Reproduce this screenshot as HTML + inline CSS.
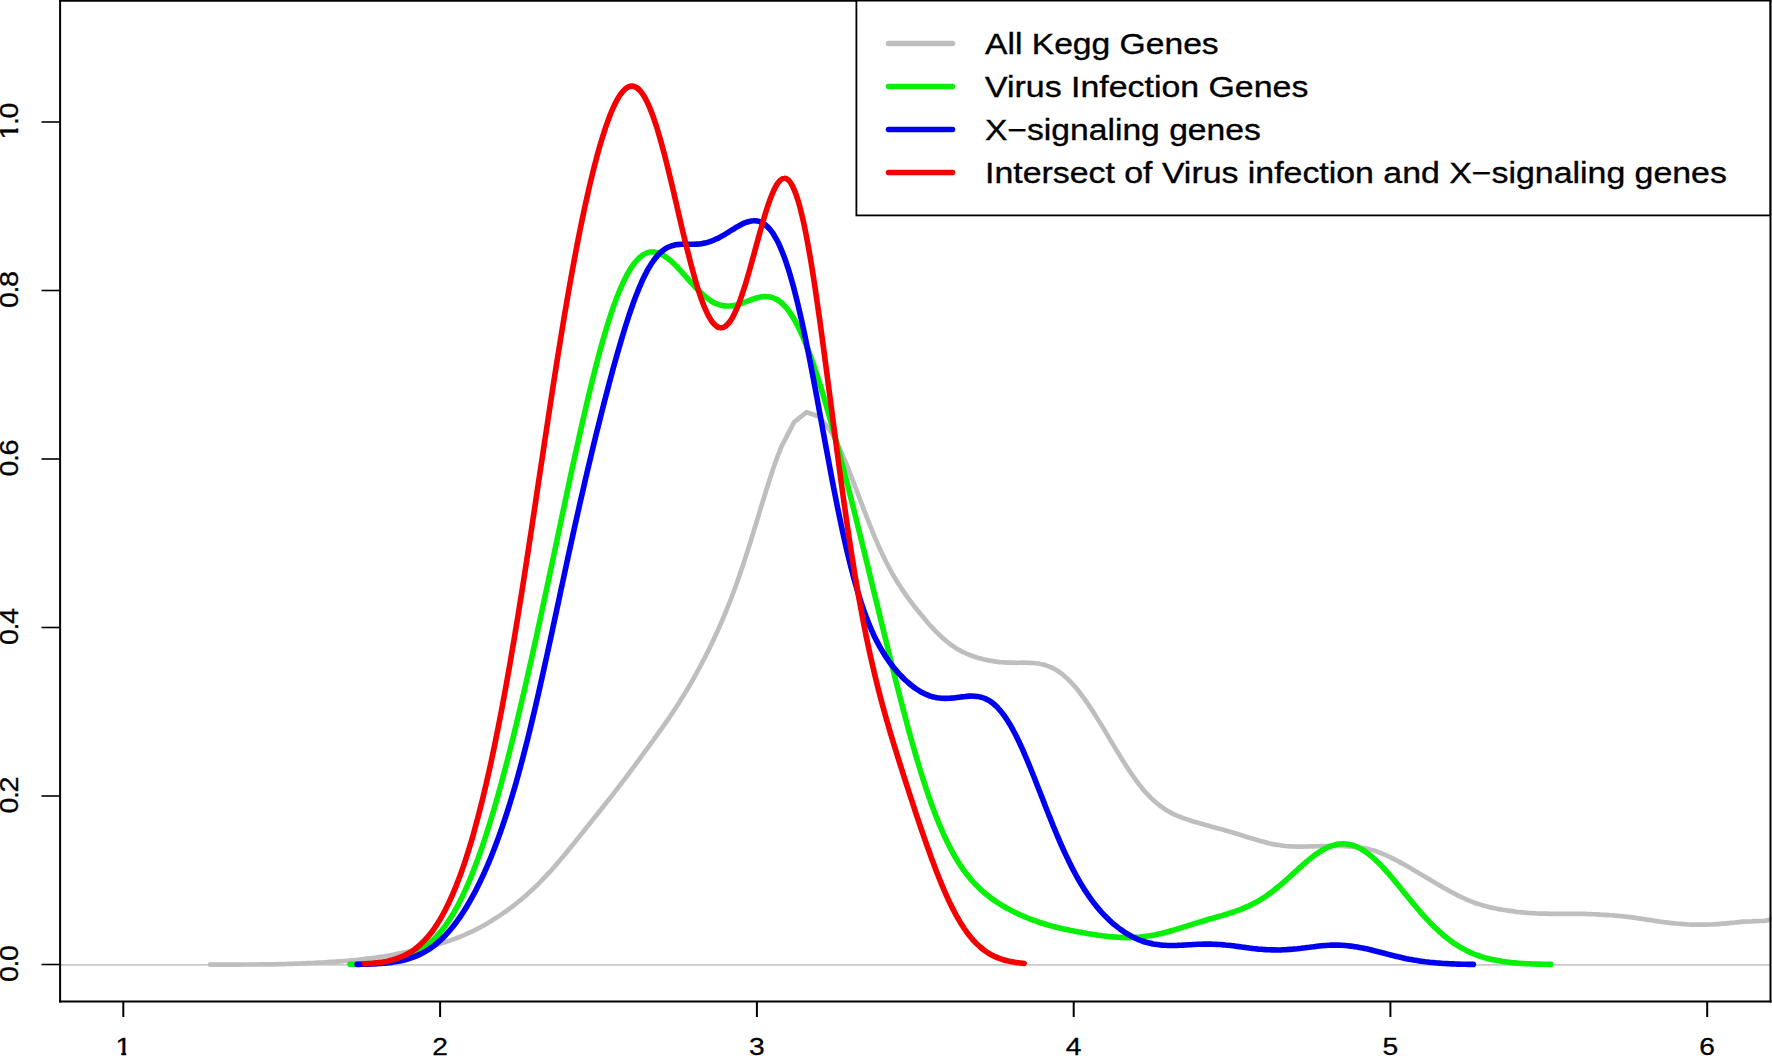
<!DOCTYPE html>
<html lang="en">
<head>
<meta charset="utf-8">
<title>Density of Kegg gene sets</title>
<style>
html,body{margin:0;padding:0;background:#fff;}
body{width:1772px;height:1056px;overflow:hidden;}
svg{display:block;}
text{font-family:"Liberation Sans",sans-serif;fill:#000;}
.ax{font-size:24.5px;stroke:#000;stroke-width:0.3px;}
.ay{font-size:25px;letter-spacing:-1.2px;stroke:#000;stroke-width:0.3px;}
.lg{font-size:29px;stroke:#000;stroke-width:0.35px;}
.curve{fill:none;stroke-width:5.6;stroke-linecap:round;stroke-linejoin:round;}
</style>
</head>
<body>
<svg width="1772" height="1056" viewBox="0 0 1772 1056">
<defs><clipPath id="one"><rect x="100" y="1030" width="50" height="22.9"/><rect x="121.3" y="1052" width="4.9" height="5"/></clipPath><clipPath id="oney"><rect x="0" y="90" width="30" height="33.5"/><rect x="0" y="123.5" width="15" height="20"/><rect x="14.5" y="128.4" width="6" height="4.4"/></clipPath></defs>
<rect x="0" y="0" width="1772" height="1056" fill="#ffffff"/>

<!-- zero line -->
<line x1="60" y1="964.9" x2="1770" y2="964.9" stroke="#c9c9c9" stroke-width="1.6"/>

<!-- density curves -->
<path class="curve" stroke="#bebebe" style="stroke-width:4.7" d="M210.0 964.6C210.8 964.6 213.0 964.6 214.5 964.6C216.0 964.6 217.3 964.6 218.7 964.6C220.1 964.6 221.5 964.6 222.9 964.6C224.3 964.6 225.7 964.6 227.1 964.6C228.5 964.6 229.9 964.6 231.3 964.6C232.7 964.6 234.1 964.6 235.5 964.6C236.9 964.6 238.3 964.6 239.7 964.6C241.1 964.6 242.5 964.6 243.9 964.5C245.3 964.5 246.7 964.5 248.1 964.5C249.5 964.5 250.9 964.5 252.3 964.5C253.7 964.5 255.1 964.5 256.5 964.5C257.9 964.5 259.3 964.5 260.7 964.4C262.1 964.4 263.5 964.4 264.9 964.4C266.3 964.4 267.7 964.4 269.1 964.3C270.5 964.3 271.9 964.3 273.3 964.3C274.7 964.2 276.1 964.2 277.5 964.2C278.9 964.2 280.3 964.1 281.7 964.1C283.1 964.1 284.5 964.0 285.9 964.0C287.3 964.0 288.7 963.9 290.1 963.9C291.5 963.8 292.9 963.8 294.3 963.7C295.7 963.7 297.1 963.6 298.5 963.6C299.9 963.5 301.3 963.5 302.7 963.4C304.1 963.3 305.5 963.3 306.9 963.2C308.3 963.2 309.7 963.1 311.1 963.0C312.5 963.0 313.9 962.9 315.3 962.8C316.7 962.7 318.1 962.7 319.5 962.6C320.9 962.5 322.3 962.4 323.7 962.4C325.1 962.3 326.5 962.2 327.9 962.1C329.3 962.0 330.7 961.9 332.1 961.8C333.5 961.8 334.9 961.7 336.3 961.6C337.7 961.5 339.1 961.4 340.5 961.3C341.9 961.2 343.3 961.1 344.7 961.0C346.1 960.9 347.5 960.7 348.9 960.6C350.3 960.5 351.7 960.4 353.1 960.3C354.5 960.1 355.9 960.0 357.3 959.9C358.7 959.7 360.1 959.6 361.5 959.4C362.9 959.3 364.3 959.1 365.7 958.9C367.1 958.8 368.5 958.6 369.9 958.4C371.3 958.2 372.7 958.1 374.1 957.9C375.5 957.7 376.9 957.4 378.3 957.2C379.7 957.0 381.1 956.8 382.5 956.6C383.9 956.3 385.3 956.1 386.7 955.8C388.1 955.6 389.5 955.3 390.9 955.1C392.3 954.8 393.7 954.6 395.1 954.3C396.5 954.0 397.9 953.7 399.3 953.4C400.7 953.2 402.1 952.9 403.5 952.6C404.9 952.3 406.3 952.0 407.7 951.7C409.1 951.4 410.5 951.1 411.9 950.7C413.3 950.4 414.7 950.1 416.1 949.8C417.5 949.5 418.9 949.1 420.3 948.8C421.7 948.5 423.1 948.1 424.5 947.8C425.9 947.4 427.3 947.1 428.7 946.7C430.1 946.4 431.5 946.0 432.9 945.6C434.3 945.3 435.7 944.9 437.1 944.5C438.5 944.1 439.9 943.7 441.3 943.3C442.7 942.8 444.1 942.4 445.5 942.0C446.9 941.5 448.3 941.1 449.7 940.6C451.1 940.1 452.5 939.6 453.9 939.1C455.3 938.6 456.7 938.1 458.1 937.5C459.5 937.0 460.9 936.4 462.3 935.8C463.7 935.3 465.1 934.7 466.5 934.0C467.9 933.4 469.3 932.8 470.7 932.1C472.1 931.5 473.5 930.8 474.9 930.1C476.3 929.4 477.7 928.7 479.1 927.9C480.5 927.2 481.9 926.4 483.3 925.7C484.7 924.9 486.1 924.1 487.5 923.3C488.9 922.4 490.3 921.6 491.7 920.7C493.1 919.9 494.5 919.0 495.9 918.1C497.3 917.2 498.7 916.3 500.1 915.3C501.5 914.4 502.9 913.4 504.3 912.4C505.7 911.5 507.1 910.5 508.5 909.4C509.9 908.4 511.3 907.4 512.7 906.3C514.1 905.2 515.5 904.1 516.9 903.0C518.3 901.9 519.7 900.7 521.1 899.6C522.5 898.4 523.9 897.2 525.3 896.0C526.7 894.8 528.1 893.5 529.5 892.2C530.9 891.0 532.3 889.7 533.7 888.3C535.1 887.0 536.5 885.7 537.9 884.3C539.3 882.9 540.7 881.5 542.1 880.0C543.5 878.6 544.9 877.1 546.3 875.6C547.7 874.2 549.1 872.6 550.5 871.1C551.9 869.5 553.3 868.0 554.7 866.4C556.1 864.8 557.5 863.2 558.9 861.5C560.3 859.9 561.7 858.2 563.1 856.5C564.5 854.9 565.9 853.2 567.3 851.5C568.7 849.8 570.1 848.1 571.5 846.3C572.9 844.6 574.3 842.9 575.7 841.1C577.1 839.4 578.5 837.6 579.9 835.9C581.3 834.1 582.7 832.4 584.1 830.6C585.5 828.9 586.9 827.1 588.3 825.4C589.7 823.6 591.1 821.9 592.5 820.1C593.9 818.4 595.3 816.6 596.7 814.9C598.1 813.1 599.5 811.4 600.9 809.6C602.3 807.8 603.7 806.1 605.1 804.3C606.5 802.5 607.9 800.8 609.3 799.0C610.7 797.2 612.1 795.4 613.5 793.6C614.9 791.8 616.3 790.0 617.7 788.2C619.1 786.4 620.5 784.5 621.9 782.7C623.3 780.8 624.7 779.0 626.1 777.1C627.5 775.3 628.9 773.4 630.3 771.5C631.7 769.6 633.1 767.7 634.5 765.9C635.9 764.0 637.3 762.1 638.7 760.2C640.1 758.2 641.5 756.3 642.9 754.4C644.3 752.5 645.7 750.6 647.1 748.7C648.5 746.8 649.9 744.8 651.3 742.9C652.7 741.0 654.1 739.0 655.5 737.1C656.9 735.1 658.3 733.2 659.7 731.2C661.1 729.3 662.5 727.3 663.9 725.3C665.3 723.3 666.7 721.3 668.1 719.3C669.5 717.2 670.9 715.2 672.3 713.1C673.7 711.0 675.1 708.9 676.5 706.7C677.9 704.6 679.3 702.4 680.7 700.1C682.1 697.9 683.5 695.7 684.9 693.3C686.3 691.0 687.7 688.7 689.1 686.3C690.5 683.9 691.9 681.5 693.3 679.0C694.7 676.5 696.1 674.0 697.5 671.4C698.9 668.8 700.3 666.2 701.7 663.5C703.1 660.9 704.5 658.1 705.9 655.4C707.3 652.6 708.7 649.8 710.1 646.9C711.5 644.0 712.9 641.1 714.3 638.1C715.7 635.1 717.1 632.0 718.5 628.9C719.9 625.8 721.3 622.5 722.7 619.3C724.1 616.0 725.5 612.6 726.9 609.1C728.3 605.7 729.7 602.1 731.1 598.5C732.5 594.8 733.9 591.1 735.3 587.2C736.7 583.4 738.1 579.4 739.5 575.4C740.9 571.3 742.3 567.1 743.7 562.9C745.1 558.7 746.5 554.3 747.9 549.9C749.3 545.5 750.7 541.0 752.1 536.5C753.5 532.0 754.9 527.4 756.3 522.8C757.7 518.2 759.1 513.5 760.5 508.9C761.9 504.3 763.3 499.7 764.7 495.2C766.1 490.7 767.5 486.2 768.9 481.8C770.3 477.5 771.7 473.2 773.1 469.0C774.5 464.9 776.6 459.1 777.3 457.1L781.5 446.3L794.1 422.1L806.7 412.2L819.3 416.5L831.9 433.2L836.1 441.0C836.8 442.5 838.9 446.8 840.3 449.9C841.7 452.9 843.1 456.2 844.5 459.5C845.9 462.8 847.3 466.3 848.7 469.8C850.1 473.3 851.5 477.0 852.9 480.6C854.3 484.2 855.7 488.0 857.1 491.7C858.5 495.4 859.9 499.1 861.3 502.8C862.7 506.5 864.1 510.3 865.5 513.9C866.9 517.5 868.3 521.2 869.7 524.7C871.1 528.2 872.5 531.7 873.9 535.1C875.3 538.4 876.7 541.7 878.1 544.9C879.5 548.1 880.9 551.1 882.3 554.1C883.7 557.1 885.1 559.9 886.5 562.7C887.9 565.4 889.3 568.1 890.7 570.6C892.1 573.2 893.5 575.6 894.9 578.0C896.3 580.3 897.7 582.6 899.1 584.8C900.5 587.0 901.9 589.1 903.3 591.1C904.7 593.2 906.1 595.2 907.5 597.1C908.9 599.1 910.3 601.0 911.7 602.8C913.1 604.7 914.5 606.5 915.9 608.3C917.3 610.1 918.7 611.8 920.1 613.5C921.5 615.2 922.9 616.9 924.3 618.6C925.7 620.2 927.1 621.9 928.5 623.5C929.9 625.0 931.3 626.6 932.7 628.1C934.1 629.6 935.5 631.1 936.9 632.5C938.3 633.9 939.7 635.2 941.1 636.5C942.5 637.8 943.9 639.1 945.3 640.2C946.7 641.4 948.1 642.6 949.5 643.6C950.9 644.7 952.3 645.7 953.7 646.6C955.1 647.6 956.5 648.4 957.9 649.3C959.3 650.1 960.7 650.9 962.1 651.6C963.5 652.3 964.9 652.9 966.3 653.6C967.7 654.2 969.1 654.8 970.5 655.3C971.9 655.8 973.3 656.3 974.7 656.8C976.1 657.2 977.5 657.7 978.9 658.1C980.3 658.5 981.7 658.8 983.1 659.2C984.5 659.5 985.9 659.8 987.3 660.1C988.7 660.4 990.1 660.7 991.5 660.9C992.9 661.2 994.3 661.4 995.7 661.6C997.1 661.8 998.5 661.9 999.9 662.1C1001.3 662.2 1002.7 662.3 1004.1 662.4C1005.5 662.5 1006.9 662.6 1008.3 662.6C1009.7 662.7 1011.1 662.7 1012.5 662.7C1013.9 662.8 1015.3 662.8 1016.7 662.8C1018.1 662.8 1019.5 662.7 1020.9 662.7C1022.3 662.7 1023.7 662.7 1025.1 662.7C1026.5 662.7 1027.9 662.8 1029.3 662.8C1030.7 662.8 1032.1 662.9 1033.5 663.0C1034.9 663.1 1036.3 663.3 1037.7 663.5C1039.1 663.7 1040.5 663.9 1041.9 664.2C1043.3 664.6 1044.7 664.9 1046.1 665.4C1047.5 665.8 1048.9 666.4 1050.3 667.0C1051.7 667.6 1053.1 668.3 1054.5 669.0C1055.9 669.8 1057.3 670.7 1058.7 671.6C1060.1 672.6 1061.5 673.6 1062.9 674.7C1064.3 675.9 1065.7 677.1 1067.1 678.4C1068.5 679.7 1069.9 681.1 1071.3 682.6C1072.7 684.1 1074.1 685.7 1075.5 687.3C1076.9 689.0 1078.3 690.7 1079.7 692.5C1081.1 694.3 1082.5 696.2 1083.9 698.1C1085.3 700.1 1086.7 702.1 1088.1 704.1C1089.5 706.2 1090.9 708.3 1092.3 710.5C1093.7 712.6 1095.1 714.8 1096.5 717.1C1097.9 719.3 1099.3 721.6 1100.7 723.9C1102.1 726.2 1103.5 728.5 1104.9 730.9C1106.3 733.2 1107.7 735.5 1109.1 737.9C1110.5 740.2 1111.9 742.6 1113.3 744.9C1114.7 747.3 1116.1 749.6 1117.5 751.9C1118.9 754.2 1120.3 756.5 1121.7 758.8C1123.1 761.0 1124.5 763.3 1125.9 765.4C1127.3 767.6 1128.7 769.8 1130.1 771.8C1131.5 773.9 1132.9 776.0 1134.3 777.9C1135.7 779.9 1137.1 781.8 1138.5 783.6C1139.9 785.4 1141.3 787.2 1142.7 788.9C1144.1 790.6 1145.5 792.2 1146.9 793.7C1148.3 795.2 1149.7 796.7 1151.1 798.1C1152.5 799.4 1153.9 800.7 1155.3 801.9C1156.7 803.2 1158.1 804.3 1159.5 805.4C1160.9 806.5 1162.3 807.4 1163.7 808.4C1165.1 809.3 1166.5 810.2 1167.9 811.0C1169.3 811.8 1170.7 812.6 1172.1 813.3C1173.5 814.0 1174.9 814.7 1176.3 815.3C1177.7 815.9 1179.1 816.5 1180.5 817.0C1181.9 817.6 1183.3 818.1 1184.7 818.6C1186.1 819.1 1187.5 819.6 1188.9 820.0C1190.3 820.5 1191.7 820.9 1193.1 821.4C1194.5 821.8 1195.9 822.2 1197.3 822.6C1198.7 823.0 1200.1 823.4 1201.5 823.8C1202.9 824.2 1204.3 824.6 1205.7 825.0C1207.1 825.4 1208.5 825.8 1209.9 826.2C1211.3 826.5 1212.7 826.9 1214.1 827.3C1215.5 827.7 1216.9 828.1 1218.3 828.5C1219.7 828.9 1221.1 829.2 1222.5 829.6C1223.9 830.0 1225.3 830.4 1226.7 830.8C1228.1 831.2 1229.5 831.6 1230.9 832.0C1232.3 832.5 1233.7 832.9 1235.1 833.3C1236.5 833.7 1237.9 834.1 1239.3 834.6C1240.7 835.0 1242.1 835.4 1243.5 835.9C1244.9 836.3 1246.3 836.7 1247.7 837.2C1249.1 837.6 1250.5 838.0 1251.9 838.5C1253.3 838.9 1254.7 839.3 1256.1 839.7C1257.5 840.2 1258.9 840.6 1260.3 841.0C1261.7 841.4 1263.1 841.7 1264.5 842.1C1265.9 842.5 1267.3 842.8 1268.7 843.2C1270.1 843.5 1271.5 843.8 1272.9 844.1C1274.3 844.4 1275.7 844.6 1277.1 844.8C1278.5 845.1 1279.9 845.3 1281.3 845.5C1282.7 845.7 1284.1 845.8 1285.5 846.0C1286.9 846.1 1288.3 846.2 1289.7 846.3C1291.1 846.4 1292.5 846.4 1293.9 846.5C1295.3 846.5 1296.7 846.6 1298.1 846.6C1299.5 846.6 1300.9 846.6 1302.3 846.6C1303.7 846.6 1305.1 846.6 1306.5 846.5C1307.9 846.5 1309.3 846.5 1310.7 846.4C1312.1 846.4 1313.5 846.4 1314.9 846.3C1316.3 846.3 1317.7 846.2 1319.1 846.2C1320.5 846.1 1321.9 846.1 1323.3 846.1C1324.7 846.0 1326.1 846.0 1327.5 846.0C1328.9 846.0 1330.3 845.9 1331.7 845.9C1333.1 845.9 1334.5 845.9 1335.9 845.9C1337.3 845.9 1338.7 845.9 1340.1 846.0C1341.5 846.0 1342.9 846.0 1344.3 846.1C1345.7 846.1 1347.1 846.2 1348.5 846.3C1349.9 846.4 1351.3 846.5 1352.7 846.6C1354.1 846.7 1355.5 846.9 1356.9 847.0C1358.3 847.2 1359.7 847.4 1361.1 847.7C1362.5 847.9 1363.9 848.2 1365.3 848.4C1366.7 848.7 1368.1 849.1 1369.5 849.4C1370.9 849.8 1372.3 850.2 1373.7 850.6C1375.1 851.0 1376.5 851.5 1377.9 852.0C1379.3 852.5 1380.7 853.0 1382.1 853.6C1383.5 854.2 1384.9 854.8 1386.3 855.4C1387.7 856.0 1389.1 856.7 1390.5 857.3C1391.9 858.0 1393.3 858.7 1394.7 859.4C1396.1 860.1 1397.5 860.9 1398.9 861.6C1400.3 862.4 1401.7 863.2 1403.1 863.9C1404.5 864.7 1405.9 865.5 1407.3 866.3C1408.7 867.1 1410.1 867.9 1411.5 868.8C1412.9 869.6 1414.3 870.4 1415.7 871.2C1417.1 872.1 1418.5 872.9 1419.9 873.7C1421.3 874.5 1422.7 875.4 1424.1 876.2C1425.5 877.0 1426.9 877.9 1428.3 878.7C1429.7 879.5 1431.1 880.4 1432.5 881.2C1433.9 882.0 1435.3 882.9 1436.7 883.7C1438.1 884.5 1439.5 885.3 1440.9 886.1C1442.3 886.9 1443.7 887.8 1445.1 888.5C1446.5 889.3 1447.9 890.1 1449.3 890.9C1450.7 891.7 1452.1 892.4 1453.5 893.2C1454.9 893.9 1456.3 894.6 1457.7 895.3C1459.1 896.0 1460.5 896.7 1461.9 897.4C1463.3 898.0 1464.7 898.7 1466.1 899.3C1467.5 899.9 1468.9 900.5 1470.3 901.1C1471.7 901.6 1473.1 902.2 1474.5 902.7C1475.9 903.2 1477.3 903.7 1478.7 904.1C1480.1 904.6 1481.5 905.0 1482.9 905.4C1484.3 905.8 1485.7 906.2 1487.1 906.6C1488.5 907.0 1489.9 907.3 1491.3 907.6C1492.7 907.9 1494.1 908.2 1495.5 908.5C1496.9 908.8 1498.3 909.1 1499.7 909.3C1501.1 909.6 1502.5 909.8 1503.9 910.0C1505.3 910.3 1506.7 910.5 1508.1 910.7C1509.5 910.9 1510.9 911.1 1512.3 911.2C1513.7 911.4 1515.1 911.6 1516.5 911.8C1517.9 911.9 1519.3 912.1 1520.7 912.2C1522.1 912.4 1523.5 912.5 1524.9 912.6C1526.3 912.7 1527.7 912.8 1529.1 913.0C1530.5 913.1 1531.9 913.2 1533.3 913.2C1534.7 913.3 1536.1 913.4 1537.5 913.5C1538.9 913.5 1540.3 913.6 1541.7 913.6C1543.1 913.7 1544.5 913.7 1545.9 913.7C1547.3 913.8 1548.7 913.8 1550.1 913.8C1551.5 913.8 1552.9 913.8 1554.3 913.8C1555.7 913.8 1557.1 913.8 1558.5 913.8C1559.9 913.8 1561.3 913.8 1562.7 913.8C1564.1 913.8 1565.5 913.8 1566.9 913.8C1568.3 913.8 1569.7 913.8 1571.1 913.8C1572.5 913.8 1573.9 913.8 1575.3 913.8C1576.7 913.8 1578.1 913.8 1579.5 913.8C1580.9 913.9 1582.3 913.9 1583.7 913.9C1585.1 913.9 1586.5 914.0 1587.9 914.0C1589.3 914.1 1590.7 914.1 1592.1 914.2C1593.5 914.2 1594.9 914.3 1596.3 914.3C1597.7 914.4 1599.1 914.5 1600.5 914.6C1601.9 914.6 1603.3 914.7 1604.7 914.8C1606.1 914.9 1607.5 915.0 1608.9 915.1C1610.3 915.2 1611.7 915.3 1613.1 915.4C1614.5 915.6 1615.9 915.7 1617.3 915.8C1618.7 915.9 1620.1 916.1 1621.5 916.2C1622.9 916.4 1624.3 916.5 1625.7 916.7C1627.1 916.8 1628.5 917.0 1629.9 917.2C1631.3 917.4 1632.7 917.5 1634.1 917.7C1635.5 917.9 1636.9 918.1 1638.3 918.3C1639.7 918.5 1641.1 918.7 1642.5 918.9C1643.9 919.1 1645.3 919.3 1646.7 919.6C1648.1 919.8 1649.5 920.0 1650.9 920.2C1652.3 920.4 1653.7 920.6 1655.1 920.8C1656.5 921.0 1657.9 921.3 1659.3 921.5C1660.7 921.7 1662.1 921.9 1663.5 922.1C1664.9 922.2 1666.3 922.4 1667.7 922.6C1669.1 922.8 1670.5 922.9 1671.9 923.1C1673.3 923.3 1674.7 923.4 1676.1 923.5C1677.5 923.7 1678.9 923.8 1680.3 923.9C1681.7 924.0 1683.1 924.1 1684.5 924.2C1685.9 924.3 1687.3 924.4 1688.7 924.5C1690.1 924.5 1691.5 924.6 1692.9 924.6C1694.3 924.7 1695.7 924.7 1697.1 924.7C1698.5 924.7 1699.9 924.7 1701.3 924.7C1702.7 924.7 1704.1 924.7 1705.5 924.7C1706.9 924.6 1708.3 924.6 1709.7 924.5C1711.1 924.5 1712.5 924.4 1713.9 924.3C1715.3 924.2 1716.7 924.2 1718.1 924.1C1719.5 924.0 1720.9 923.8 1722.3 923.7C1723.7 923.6 1725.1 923.5 1726.5 923.3C1727.9 923.2 1729.3 923.1 1730.7 922.9C1732.1 922.8 1733.5 922.7 1734.9 922.5C1736.3 922.4 1737.7 922.2 1739.1 922.1C1740.5 922.0 1741.9 921.9 1743.3 921.7C1744.7 921.6 1746.1 921.5 1747.5 921.5C1748.9 921.4 1750.3 921.3 1751.7 921.3C1753.1 921.2 1754.5 921.2 1755.9 921.1C1757.3 921.1 1758.7 921.1 1760.1 921.0C1761.5 921.0 1762.9 920.9 1764.3 920.8C1765.7 920.6 1767.4 920.3 1768.5 920.0C1769.6 919.7 1770.6 919.2 1771.0 919.1"/>
<path class="curve" stroke="#08f008" d="M350.0 964.3C350.7 964.3 352.7 964.3 354.0 964.2C355.3 964.2 356.7 964.1 358.0 964.1C359.3 964.1 360.7 964.0 362.0 964.0C363.3 963.9 364.7 963.8 366.0 963.8C367.3 963.7 368.7 963.6 370.0 963.5C371.3 963.5 372.7 963.4 374.0 963.3C375.4 963.1 376.7 963.0 378.0 962.9C379.4 962.8 380.7 962.6 382.0 962.5C383.4 962.3 384.7 962.1 386.0 961.9C387.4 961.7 388.7 961.5 390.0 961.3C391.4 961.0 392.7 960.8 394.0 960.5C395.4 960.2 396.7 959.9 398.0 959.5C399.4 959.2 400.7 958.8 402.0 958.4C403.4 958.0 404.7 957.6 406.0 957.1C407.4 956.6 408.7 956.1 410.0 955.5C411.4 954.9 412.7 954.3 414.0 953.6C415.4 953.0 416.7 952.2 418.0 951.5C419.4 950.7 420.7 949.8 422.0 949.0C423.4 948.1 424.7 947.1 426.1 946.1C427.4 945.0 428.7 943.9 430.1 942.8C431.4 941.6 432.7 940.3 434.1 939.0C435.4 937.7 436.7 936.2 438.1 934.7C439.4 933.2 440.7 931.6 442.1 930.0C443.4 928.3 444.7 926.5 446.1 924.6C447.4 922.7 448.7 920.7 450.1 918.7C451.4 916.6 452.7 914.4 454.1 912.1C455.4 909.8 456.7 907.4 458.1 904.9C459.4 902.3 460.7 899.7 462.1 897.0C463.4 894.2 464.7 891.3 466.1 888.4C467.4 885.4 468.7 882.3 470.1 879.1C471.4 875.9 472.7 872.6 474.1 869.1C475.4 865.7 476.8 862.1 478.1 858.4C479.4 854.8 480.8 851.0 482.1 847.1C483.4 843.1 484.8 839.1 486.1 835.0C487.4 830.9 488.8 826.6 490.1 822.3C491.4 817.9 492.8 813.5 494.1 808.9C495.4 804.4 496.8 799.7 498.1 794.9C499.4 790.2 500.8 785.3 502.1 780.4C503.4 775.4 504.8 770.4 506.1 765.3C507.4 760.1 508.8 754.9 510.1 749.6C511.4 744.3 512.8 739.0 514.1 733.5C515.4 728.1 516.8 722.5 518.1 716.9C519.4 711.3 520.8 705.7 522.1 699.9C523.4 694.2 524.8 688.4 526.1 682.6C527.5 676.7 528.8 670.8 530.1 664.9C531.5 658.9 532.8 652.9 534.1 646.9C535.5 640.8 536.8 634.7 538.1 628.6C539.5 622.5 540.8 616.3 542.1 610.1C543.5 603.9 544.8 597.7 546.1 591.4C547.5 585.2 548.8 578.9 550.1 572.6C551.5 566.3 552.8 560.0 554.1 553.7C555.5 547.4 556.8 541.0 558.1 534.7C559.5 528.4 560.8 522.1 562.1 515.8C563.5 509.5 564.8 503.2 566.1 496.9C567.5 490.6 568.8 484.4 570.1 478.1C571.5 471.9 572.8 465.7 574.1 459.6C575.5 453.5 576.8 447.4 578.2 441.4C579.5 435.4 580.8 429.4 582.2 423.5C583.5 417.6 584.8 411.8 586.2 406.1C587.5 400.4 588.8 394.8 590.2 389.3C591.5 383.7 592.8 378.3 594.2 373.0C595.5 367.8 596.8 362.6 598.2 357.6C599.5 352.5 600.8 347.6 602.2 342.9C603.5 338.2 604.8 333.6 606.2 329.1C607.5 324.7 608.8 320.4 610.2 316.3C611.5 312.3 612.8 308.3 614.2 304.6C615.5 300.9 616.8 297.4 618.2 294.0C619.5 290.7 620.8 287.5 622.2 284.6C623.5 281.6 624.8 278.8 626.2 276.3C627.5 273.7 628.9 271.4 630.2 269.3C631.5 267.1 632.9 265.2 634.2 263.4C635.5 261.7 636.9 260.2 638.2 258.9C639.5 257.5 640.9 256.4 642.2 255.5C643.5 254.5 644.9 253.8 646.2 253.2C647.5 252.7 648.9 252.3 650.2 252.1C651.5 251.9 652.9 251.9 654.2 252.0C655.5 252.2 656.9 252.5 658.2 252.9C659.5 253.4 660.9 254.0 662.2 254.7C663.5 255.4 664.9 256.2 666.2 257.2C667.5 258.1 668.9 259.2 670.2 260.3C671.5 261.5 672.9 262.7 674.2 264.0C675.6 265.3 676.9 266.7 678.2 268.1C679.6 269.6 680.9 271.0 682.2 272.5C683.6 274.0 684.9 275.5 686.2 277.0C687.6 278.5 688.9 280.1 690.2 281.6C691.6 283.0 692.9 284.5 694.2 286.0C695.6 287.4 696.9 288.8 698.2 290.2C699.6 291.5 700.9 292.8 702.2 294.0C703.6 295.2 704.9 296.4 706.2 297.4C707.6 298.5 708.9 299.4 710.2 300.3C711.6 301.2 712.9 302.0 714.2 302.7C715.6 303.3 716.9 303.9 718.2 304.4C719.6 304.9 720.9 305.2 722.2 305.5C723.6 305.8 724.9 306.0 726.3 306.0C727.6 306.1 728.9 306.1 730.3 306.0C731.6 305.9 732.9 305.7 734.3 305.4C735.6 305.2 736.9 304.8 738.3 304.5C739.6 304.1 740.9 303.6 742.3 303.2C743.6 302.7 744.9 302.2 746.3 301.7C747.6 301.2 748.9 300.7 750.3 300.2C751.6 299.7 752.9 299.2 754.3 298.8C755.6 298.3 756.9 297.9 758.3 297.6C759.6 297.3 760.9 297.0 762.3 296.8C763.6 296.6 764.9 296.5 766.3 296.6C767.6 296.6 768.9 296.7 770.3 297.0C771.6 297.3 772.9 297.7 774.3 298.3C775.6 298.8 777.0 299.5 778.3 300.4C779.6 301.3 781.0 302.4 782.3 303.6C783.6 304.8 785.0 306.2 786.3 307.8C787.6 309.4 789.0 311.2 790.3 313.1C791.6 315.1 793.0 317.2 794.3 319.5C795.6 321.8 797.0 324.4 798.3 327.0C799.6 329.7 801.0 332.6 802.3 335.6C803.6 338.6 805.0 341.8 806.3 345.2C807.6 348.5 809.0 352.1 810.3 355.7C811.6 359.4 813.0 363.2 814.3 367.1C815.6 371.1 817.0 375.1 818.3 379.3C819.6 383.5 821.0 387.8 822.3 392.2C823.6 396.6 825.0 401.2 826.3 405.8C827.7 410.4 829.0 415.1 830.3 419.8C831.7 424.6 833.0 429.4 834.3 434.3C835.7 439.2 837.0 444.2 838.3 449.3C839.7 454.3 841.0 459.4 842.3 464.5C843.7 469.6 845.0 474.8 846.3 480.0C847.7 485.2 849.0 490.5 850.3 495.8C851.7 501.1 853.0 506.4 854.3 511.7C855.7 517.1 857.0 522.4 858.3 527.8C859.7 533.2 861.0 538.6 862.3 544.1C863.7 549.5 865.0 554.9 866.3 560.4C867.7 565.9 869.0 571.4 870.3 576.8C871.7 582.3 873.0 587.8 874.3 593.3C875.7 598.8 877.0 604.3 878.4 609.8C879.7 615.3 881.0 620.8 882.4 626.3C883.7 631.7 885.0 637.2 886.4 642.6C887.7 648.1 889.0 653.5 890.4 658.9C891.7 664.3 893.0 669.7 894.4 675.0C895.7 680.3 897.0 685.6 898.4 690.8C899.7 696.0 901.0 701.2 902.4 706.3C903.7 711.4 905.0 716.5 906.4 721.5C907.7 726.4 909.0 731.4 910.4 736.2C911.7 741.0 913.0 745.7 914.4 750.4C915.7 755.0 917.0 759.6 918.4 764.0C919.7 768.4 921.0 772.8 922.4 777.0C923.7 781.2 925.0 785.3 926.4 789.3C927.7 793.3 929.1 797.2 930.4 801.0C931.7 804.8 933.1 808.4 934.4 811.9C935.7 815.4 937.1 818.8 938.4 822.1C939.7 825.4 941.1 828.5 942.4 831.5C943.7 834.6 945.1 837.5 946.4 840.3C947.7 843.0 949.1 845.7 950.4 848.3C951.7 850.8 953.1 853.2 954.4 855.6C955.7 857.9 957.1 860.1 958.4 862.2C959.7 864.4 961.1 866.4 962.4 868.3C963.7 870.2 965.1 872.0 966.4 873.8C967.7 875.5 969.1 877.2 970.4 878.7C971.7 880.3 973.1 881.8 974.4 883.3C975.8 884.7 977.1 886.0 978.4 887.3C979.8 888.6 981.1 889.9 982.4 891.1C983.8 892.3 985.1 893.4 986.4 894.5C987.8 895.5 989.1 896.6 990.4 897.6C991.8 898.6 993.1 899.5 994.4 900.4C995.8 901.4 997.1 902.2 998.4 903.1C999.8 904.0 1001.1 904.8 1002.4 905.6C1003.8 906.4 1005.1 907.1 1006.4 907.9C1007.8 908.6 1009.1 909.3 1010.4 910.0C1011.8 910.7 1013.1 911.4 1014.4 912.1C1015.8 912.7 1017.1 913.4 1018.4 914.0C1019.8 914.6 1021.1 915.2 1022.4 915.8C1023.8 916.4 1025.1 916.9 1026.5 917.5C1027.8 918.0 1029.1 918.5 1030.5 919.1C1031.8 919.6 1033.1 920.1 1034.5 920.5C1035.8 921.0 1037.1 921.5 1038.5 922.0C1039.8 922.4 1041.1 922.8 1042.5 923.3C1043.8 923.7 1045.1 924.1 1046.5 924.5C1047.8 924.9 1049.1 925.3 1050.5 925.6C1051.8 926.0 1053.1 926.4 1054.5 926.7C1055.8 927.1 1057.1 927.4 1058.5 927.7C1059.8 928.0 1061.1 928.4 1062.5 928.7C1063.8 929.0 1065.1 929.3 1066.5 929.6C1067.8 929.8 1069.1 930.1 1070.5 930.4C1071.8 930.7 1073.1 930.9 1074.5 931.2C1075.8 931.5 1077.2 931.7 1078.5 932.0C1079.8 932.2 1081.2 932.4 1082.5 932.7C1083.8 932.9 1085.2 933.1 1086.5 933.4C1087.8 933.6 1089.2 933.8 1090.5 934.0C1091.8 934.2 1093.2 934.4 1094.5 934.6C1095.8 934.8 1097.2 935.0 1098.5 935.2C1099.8 935.4 1101.2 935.6 1102.5 935.8C1103.8 935.9 1105.2 936.1 1106.5 936.2C1107.8 936.4 1109.2 936.5 1110.5 936.7C1111.8 936.8 1113.2 936.9 1114.5 937.0C1115.8 937.1 1117.2 937.2 1118.5 937.3C1119.8 937.4 1121.2 937.4 1122.5 937.5C1123.8 937.5 1125.2 937.6 1126.5 937.6C1127.9 937.6 1129.2 937.6 1130.5 937.6C1131.9 937.5 1133.2 937.5 1134.5 937.4C1135.9 937.4 1137.2 937.3 1138.5 937.2C1139.9 937.1 1141.2 937.0 1142.5 936.8C1143.9 936.7 1145.2 936.5 1146.5 936.3C1147.9 936.1 1149.2 935.9 1150.5 935.7C1151.9 935.5 1153.2 935.2 1154.5 935.0C1155.9 934.7 1157.2 934.4 1158.5 934.1C1159.9 933.8 1161.2 933.5 1162.5 933.2C1163.9 932.8 1165.2 932.5 1166.5 932.1C1167.9 931.8 1169.2 931.4 1170.5 931.0C1171.9 930.6 1173.2 930.3 1174.5 929.9C1175.9 929.5 1177.2 929.1 1178.6 928.6C1179.9 928.2 1181.2 927.8 1182.6 927.4C1183.9 927.0 1185.2 926.6 1186.6 926.1C1187.9 925.7 1189.2 925.3 1190.6 924.9C1191.9 924.5 1193.2 924.1 1194.6 923.6C1195.9 923.2 1197.2 922.8 1198.6 922.4C1199.9 922.0 1201.2 921.6 1202.6 921.2C1203.9 920.8 1205.2 920.4 1206.6 920.0C1207.9 919.6 1209.2 919.2 1210.6 918.8C1211.9 918.5 1213.2 918.1 1214.6 917.7C1215.9 917.3 1217.2 916.9 1218.6 916.5C1219.9 916.1 1221.2 915.8 1222.6 915.4C1223.9 915.0 1225.2 914.6 1226.6 914.2C1227.9 913.8 1229.3 913.3 1230.6 912.9C1231.9 912.5 1233.3 912.0 1234.6 911.6C1235.9 911.1 1237.3 910.7 1238.6 910.2C1239.9 909.7 1241.3 909.2 1242.6 908.6C1243.9 908.1 1245.3 907.5 1246.6 906.9C1247.9 906.3 1249.3 905.7 1250.6 905.1C1251.9 904.4 1253.3 903.7 1254.6 903.0C1255.9 902.3 1257.3 901.6 1258.6 900.8C1259.9 900.0 1261.3 899.2 1262.6 898.3C1263.9 897.5 1265.3 896.6 1266.6 895.7C1267.9 894.8 1269.3 893.8 1270.6 892.8C1271.9 891.8 1273.3 890.8 1274.6 889.7C1276.0 888.7 1277.3 887.6 1278.6 886.5C1280.0 885.4 1281.3 884.3 1282.6 883.1C1284.0 882.0 1285.3 880.8 1286.6 879.6C1288.0 878.4 1289.3 877.2 1290.6 876.0C1292.0 874.8 1293.3 873.6 1294.6 872.4C1296.0 871.1 1297.3 869.9 1298.6 868.7C1300.0 867.5 1301.3 866.3 1302.6 865.1C1304.0 864.0 1305.3 862.8 1306.6 861.7C1308.0 860.5 1309.3 859.4 1310.6 858.4C1312.0 857.3 1313.3 856.3 1314.6 855.3C1316.0 854.3 1317.3 853.4 1318.6 852.5C1320.0 851.6 1321.3 850.8 1322.6 850.0C1324.0 849.2 1325.3 848.5 1326.7 847.9C1328.0 847.2 1329.3 846.7 1330.7 846.2C1332.0 845.7 1333.3 845.3 1334.7 844.9C1336.0 844.6 1337.3 844.3 1338.7 844.1C1340.0 843.9 1341.3 843.8 1342.7 843.8C1344.0 843.8 1345.3 843.9 1346.7 844.1C1348.0 844.2 1349.3 844.5 1350.7 844.8C1352.0 845.1 1353.3 845.5 1354.7 846.0C1356.0 846.5 1357.3 847.1 1358.7 847.8C1360.0 848.4 1361.3 849.2 1362.7 850.0C1364.0 850.8 1365.3 851.7 1366.7 852.6C1368.0 853.6 1369.3 854.6 1370.7 855.7C1372.0 856.8 1373.3 858.0 1374.7 859.2C1376.0 860.4 1377.4 861.7 1378.7 863.1C1380.0 864.4 1381.4 865.8 1382.7 867.2C1384.0 868.6 1385.4 870.1 1386.7 871.6C1388.0 873.1 1389.4 874.6 1390.7 876.2C1392.0 877.7 1393.4 879.3 1394.7 880.9C1396.0 882.5 1397.4 884.1 1398.7 885.8C1400.0 887.4 1401.4 889.0 1402.7 890.7C1404.0 892.3 1405.4 894.0 1406.7 895.6C1408.0 897.2 1409.4 898.9 1410.7 900.5C1412.0 902.1 1413.4 903.7 1414.7 905.3C1416.0 906.9 1417.4 908.5 1418.7 910.0C1420.0 911.6 1421.4 913.1 1422.7 914.6C1424.0 916.1 1425.4 917.6 1426.7 919.0C1428.1 920.4 1429.4 921.9 1430.7 923.2C1432.1 924.6 1433.4 925.9 1434.7 927.2C1436.1 928.5 1437.4 929.8 1438.7 931.0C1440.1 932.2 1441.4 933.4 1442.7 934.5C1444.1 935.7 1445.4 936.8 1446.7 937.8C1448.1 938.9 1449.4 939.9 1450.7 940.9C1452.1 941.9 1453.4 942.8 1454.7 943.7C1456.1 944.6 1457.4 945.4 1458.7 946.3C1460.1 947.1 1461.4 947.9 1462.7 948.6C1464.1 949.3 1465.4 950.0 1466.7 950.7C1468.1 951.4 1469.4 952.0 1470.7 952.6C1472.1 953.2 1473.4 953.7 1474.7 954.3C1476.1 954.8 1477.4 955.3 1478.8 955.8C1480.1 956.2 1481.4 956.7 1482.8 957.1C1484.1 957.5 1485.4 957.9 1486.8 958.2C1488.1 958.6 1489.4 958.9 1490.8 959.2C1492.1 959.5 1493.4 959.8 1494.8 960.1C1496.1 960.4 1497.4 960.6 1498.8 960.8C1500.1 961.1 1501.4 961.3 1502.8 961.5C1504.1 961.7 1505.4 961.9 1506.8 962.0C1508.1 962.2 1509.4 962.4 1510.8 962.5C1512.1 962.6 1513.4 962.8 1514.8 962.9C1516.1 963.0 1517.4 963.1 1518.8 963.2C1520.1 963.3 1521.4 963.4 1522.8 963.5C1524.1 963.6 1525.4 963.6 1526.8 963.7C1528.1 963.8 1529.5 963.8 1530.8 963.9C1532.1 963.9 1533.5 964.0 1534.8 964.0C1536.1 964.1 1537.5 964.1 1538.8 964.1C1540.1 964.2 1541.5 964.2 1542.8 964.2C1544.1 964.3 1545.5 964.3 1546.8 964.3C1548.1 964.3 1550.1 964.4 1550.8 964.4"/>
<path class="curve" stroke="#0000f0" d="M357.1 964.4C357.8 964.4 359.8 964.3 361.1 964.3C362.4 964.3 363.8 964.3 365.1 964.2C366.4 964.2 367.8 964.1 369.1 964.1C370.4 964.0 371.8 964.0 373.1 963.9C374.4 963.9 375.8 963.8 377.1 963.7C378.4 963.6 379.8 963.5 381.1 963.4C382.4 963.3 383.8 963.2 385.1 963.1C386.4 963.0 387.8 962.8 389.1 962.7C390.4 962.5 391.8 962.3 393.1 962.1C394.4 961.9 395.8 961.7 397.1 961.5C398.4 961.2 399.8 961.0 401.1 960.7C402.4 960.4 403.8 960.1 405.1 959.7C406.4 959.4 407.8 959.0 409.1 958.6C410.4 958.2 411.8 957.7 413.1 957.2C414.4 956.7 415.8 956.2 417.1 955.6C418.4 955.0 419.8 954.4 421.1 953.7C422.4 953.1 423.8 952.4 425.1 951.6C426.4 950.8 427.8 950.0 429.1 949.1C430.4 948.2 431.8 947.3 433.1 946.3C434.4 945.3 435.8 944.3 437.1 943.1C438.4 942.0 439.8 940.8 441.1 939.6C442.4 938.3 443.8 937.0 445.1 935.6C446.4 934.2 447.8 932.7 449.1 931.2C450.5 929.7 451.8 928.1 453.1 926.4C454.5 924.7 455.8 923.0 457.1 921.1C458.5 919.3 459.8 917.4 461.1 915.4C462.5 913.4 463.8 911.3 465.1 909.2C466.5 907.1 467.8 904.8 469.1 902.5C470.5 900.2 471.8 897.8 473.1 895.4C474.5 892.9 475.8 890.4 477.1 887.7C478.5 885.1 479.8 882.4 481.1 879.5C482.5 876.7 483.8 873.8 485.1 870.8C486.5 867.8 487.8 864.7 489.1 861.6C490.5 858.4 491.8 855.1 493.1 851.7C494.5 848.3 495.8 844.8 497.1 841.2C498.5 837.6 499.8 833.9 501.1 830.1C502.5 826.3 503.8 822.4 505.1 818.4C506.5 814.3 507.8 810.2 509.1 805.9C510.5 801.7 511.8 797.3 513.1 792.8C514.5 788.3 515.8 783.6 517.1 778.9C518.5 774.2 519.8 769.3 521.1 764.3C522.5 759.3 523.8 754.2 525.1 749.0C526.5 743.8 527.8 738.5 529.1 733.1C530.5 727.7 531.8 722.1 533.1 716.5C534.5 710.9 535.8 705.2 537.1 699.4C538.5 693.6 539.8 687.7 541.1 681.7C542.5 675.8 543.8 669.8 545.1 663.7C546.5 657.6 547.8 651.5 549.1 645.3C550.5 639.2 551.8 633.0 553.1 626.7C554.5 620.5 555.8 614.3 557.1 608.1C558.5 601.8 559.8 595.6 561.1 589.3C562.5 583.1 563.8 576.9 565.1 570.7C566.5 564.5 567.8 558.3 569.1 552.2C570.5 546.1 571.8 540.0 573.1 533.9C574.5 527.9 575.8 521.9 577.1 515.9C578.5 510.0 579.8 504.1 581.1 498.2C582.5 492.4 583.8 486.6 585.1 480.8C586.5 475.1 587.8 469.4 589.1 463.8C590.5 458.1 591.8 452.6 593.1 447.0C594.5 441.5 595.8 436.1 597.1 430.7C598.5 425.3 599.8 419.9 601.1 414.6C602.5 409.3 603.8 404.1 605.1 399.0C606.5 393.8 607.8 388.7 609.1 383.7C610.5 378.6 611.8 373.7 613.1 368.8C614.5 363.9 615.8 359.1 617.1 354.4C618.5 349.7 619.8 345.1 621.1 340.6C622.5 336.1 623.8 331.7 625.1 327.5C626.5 323.2 627.8 319.0 629.1 315.0C630.5 311.0 631.8 307.2 633.1 303.5C634.5 299.8 635.8 296.2 637.2 292.8C638.5 289.4 639.8 286.2 641.2 283.2C642.5 280.2 643.8 277.3 645.2 274.7C646.5 272.0 647.8 269.6 649.2 267.3C650.5 265.0 651.8 262.9 653.2 261.1C654.5 259.2 655.8 257.5 657.2 256.0C658.5 254.4 659.8 253.1 661.2 251.9C662.5 250.8 663.8 249.8 665.2 248.9C666.5 248.1 667.8 247.4 669.2 246.8C670.5 246.2 671.8 245.8 673.2 245.4C674.5 245.1 675.8 244.8 677.2 244.6C678.5 244.5 679.8 244.4 681.2 244.3C682.5 244.2 683.8 244.2 685.2 244.2C686.5 244.2 687.8 244.2 689.2 244.2C690.5 244.2 691.8 244.3 693.2 244.2C694.5 244.2 695.8 244.2 697.2 244.1C698.5 244.0 699.8 243.9 701.2 243.7C702.5 243.5 703.8 243.2 705.2 242.9C706.5 242.6 707.8 242.3 709.2 241.9C710.5 241.4 711.8 240.9 713.2 240.4C714.5 239.9 715.8 239.3 717.2 238.6C718.5 238.0 719.8 237.2 721.2 236.5C722.5 235.8 723.8 235.0 725.2 234.2C726.5 233.4 727.8 232.5 729.2 231.7C730.5 230.9 731.8 230.0 733.2 229.2C734.5 228.4 735.8 227.5 737.2 226.8C738.5 226.0 739.8 225.2 741.2 224.6C742.5 223.9 743.8 223.2 745.2 222.7C746.5 222.2 747.8 221.7 749.2 221.4C750.5 221.1 751.8 220.8 753.2 220.8C754.5 220.7 755.8 220.7 757.2 221.0C758.5 221.2 759.8 221.6 761.2 222.2C762.5 222.9 763.8 223.6 765.2 224.7C766.5 225.7 767.8 227.0 769.2 228.5C770.5 230.0 771.8 231.7 773.2 233.7C774.5 235.8 775.8 238.1 777.2 240.6C778.5 243.2 779.8 246.1 781.2 249.3C782.5 252.4 783.8 255.9 785.2 259.6C786.5 263.4 787.8 267.5 789.2 271.8C790.5 276.2 791.8 280.8 793.2 285.7C794.5 290.7 795.8 295.9 797.2 301.4C798.5 306.9 799.8 312.6 801.2 318.6C802.5 324.6 803.8 330.8 805.2 337.2C806.5 343.6 807.8 350.3 809.2 357.0C810.5 363.8 811.8 370.7 813.2 377.7C814.5 384.8 815.8 391.9 817.2 399.1C818.5 406.3 819.8 413.6 821.2 420.9C822.5 428.2 823.9 435.5 825.2 442.7C826.5 449.9 827.9 457.2 829.2 464.3C830.5 471.4 831.9 478.5 833.2 485.4C834.5 492.3 835.9 499.1 837.2 505.7C838.5 512.3 839.9 518.7 841.2 525.0C842.5 531.3 843.9 537.3 845.2 543.2C846.5 549.0 847.9 554.7 849.2 560.1C850.5 565.5 851.9 570.7 853.2 575.7C854.5 580.6 855.9 585.4 857.2 589.9C858.5 594.4 859.9 598.7 861.2 602.7C862.5 606.8 863.9 610.6 865.2 614.3C866.5 617.9 867.9 621.3 869.2 624.6C870.5 627.8 871.9 630.9 873.2 633.8C874.5 636.7 875.9 639.4 877.2 641.9C878.5 644.5 879.9 646.9 881.2 649.2C882.5 651.5 883.9 653.7 885.2 655.8C886.5 657.8 887.9 659.8 889.2 661.6C890.5 663.5 891.9 665.2 893.2 666.9C894.5 668.6 895.9 670.2 897.2 671.7C898.5 673.2 899.9 674.6 901.2 676.0C902.5 677.4 903.9 678.7 905.2 680.0C906.5 681.2 907.9 682.4 909.2 683.5C910.5 684.6 911.9 685.7 913.2 686.7C914.5 687.7 915.9 688.6 917.2 689.5C918.5 690.4 919.9 691.2 921.2 692.0C922.5 692.7 923.9 693.4 925.2 694.0C926.5 694.6 927.9 695.2 929.2 695.7C930.5 696.1 931.9 696.6 933.2 696.9C934.5 697.3 935.9 697.5 937.2 697.8C938.5 698.0 939.9 698.2 941.2 698.3C942.5 698.4 943.9 698.4 945.2 698.4C946.5 698.4 947.9 698.4 949.2 698.3C950.5 698.2 951.9 698.1 953.2 698.0C954.5 697.8 955.9 697.7 957.2 697.5C958.5 697.3 959.9 697.1 961.2 696.9C962.5 696.8 963.9 696.6 965.2 696.5C966.5 696.3 967.9 696.2 969.2 696.1C970.5 696.1 971.9 696.0 973.2 696.1C974.5 696.1 975.9 696.2 977.2 696.4C978.5 696.6 979.9 696.8 981.2 697.2C982.5 697.6 983.9 698.0 985.2 698.6C986.5 699.2 987.9 699.9 989.2 700.7C990.5 701.5 991.9 702.5 993.2 703.5C994.5 704.6 995.9 705.8 997.2 707.2C998.5 708.6 999.9 710.0 1001.2 711.7C1002.5 713.3 1003.9 715.1 1005.2 717.0C1006.5 719.0 1007.9 721.0 1009.2 723.3C1010.6 725.5 1011.9 727.8 1013.2 730.3C1014.6 732.7 1015.9 735.3 1017.2 738.0C1018.6 740.8 1019.9 743.6 1021.2 746.5C1022.6 749.4 1023.9 752.5 1025.2 755.6C1026.6 758.7 1027.9 761.9 1029.2 765.1C1030.6 768.3 1031.9 771.7 1033.2 775.0C1034.6 778.3 1035.9 781.7 1037.2 785.2C1038.6 788.6 1039.9 792.0 1041.2 795.4C1042.6 798.8 1043.9 802.3 1045.2 805.7C1046.6 809.1 1047.9 812.5 1049.2 815.9C1050.6 819.2 1051.9 822.5 1053.2 825.8C1054.6 829.1 1055.9 832.3 1057.2 835.5C1058.6 838.6 1059.9 841.7 1061.2 844.8C1062.6 847.8 1063.9 850.8 1065.2 853.6C1066.6 856.5 1067.9 859.3 1069.2 862.0C1070.6 864.8 1071.9 867.4 1073.2 869.9C1074.6 872.5 1075.9 875.0 1077.2 877.3C1078.6 879.7 1079.9 882.0 1081.2 884.3C1082.6 886.5 1083.9 888.6 1085.2 890.7C1086.6 892.7 1087.9 894.7 1089.2 896.6C1090.6 898.5 1091.9 900.3 1093.2 902.1C1094.6 903.9 1095.9 905.5 1097.2 907.2C1098.6 908.8 1099.9 910.3 1101.2 911.8C1102.6 913.3 1103.9 914.7 1105.2 916.1C1106.6 917.5 1107.9 918.8 1109.2 920.1C1110.6 921.3 1111.9 922.5 1113.2 923.7C1114.6 924.8 1115.9 925.9 1117.2 926.9C1118.6 928.0 1119.9 929.0 1121.2 929.9C1122.6 930.9 1123.9 931.8 1125.2 932.6C1126.6 933.5 1127.9 934.3 1129.2 935.0C1130.6 935.8 1131.9 936.5 1133.2 937.2C1134.6 937.8 1135.9 938.5 1137.2 939.0C1138.6 939.6 1139.9 940.2 1141.2 940.6C1142.6 941.1 1143.9 941.6 1145.2 942.0C1146.6 942.4 1147.9 942.8 1149.2 943.1C1150.6 943.4 1151.9 943.7 1153.2 944.0C1154.6 944.2 1155.9 944.4 1157.2 944.6C1158.6 944.8 1159.9 944.9 1161.2 945.1C1162.6 945.2 1163.9 945.3 1165.2 945.3C1166.6 945.4 1167.9 945.5 1169.2 945.5C1170.6 945.5 1171.9 945.5 1173.2 945.5C1174.6 945.5 1175.9 945.4 1177.2 945.4C1178.6 945.3 1179.9 945.3 1181.2 945.2C1182.6 945.1 1183.9 945.1 1185.2 945.0C1186.6 944.9 1187.9 944.8 1189.2 944.7C1190.6 944.7 1191.9 944.6 1193.2 944.5C1194.6 944.5 1195.9 944.4 1197.3 944.3C1198.6 944.3 1199.9 944.2 1201.3 944.2C1202.6 944.2 1203.9 944.1 1205.3 944.1C1206.6 944.1 1207.9 944.1 1209.3 944.1C1210.6 944.1 1211.9 944.2 1213.3 944.2C1214.6 944.2 1215.9 944.3 1217.3 944.4C1218.6 944.4 1219.9 944.5 1221.3 944.6C1222.6 944.7 1223.9 944.8 1225.3 945.0C1226.6 945.1 1227.9 945.2 1229.3 945.4C1230.6 945.5 1231.9 945.7 1233.3 945.8C1234.6 946.0 1235.9 946.2 1237.3 946.4C1238.6 946.5 1239.9 946.7 1241.3 946.9C1242.6 947.1 1243.9 947.3 1245.3 947.4C1246.6 947.6 1247.9 947.8 1249.3 948.0C1250.6 948.1 1251.9 948.3 1253.3 948.5C1254.6 948.6 1255.9 948.8 1257.3 948.9C1258.6 949.1 1259.9 949.2 1261.3 949.3C1262.6 949.4 1263.9 949.5 1265.3 949.6C1266.6 949.7 1267.9 949.8 1269.3 949.8C1270.6 949.9 1271.9 949.9 1273.3 949.9C1274.6 950.0 1275.9 950.0 1277.3 950.0C1278.6 950.0 1279.9 949.9 1281.3 949.9C1282.6 949.8 1283.9 949.8 1285.3 949.7C1286.6 949.6 1287.9 949.5 1289.3 949.4C1290.6 949.3 1291.9 949.2 1293.3 949.1C1294.6 948.9 1295.9 948.8 1297.3 948.7C1298.6 948.5 1299.9 948.3 1301.3 948.2C1302.6 948.0 1303.9 947.8 1305.3 947.7C1306.6 947.5 1307.9 947.3 1309.3 947.2C1310.6 947.0 1311.9 946.8 1313.3 946.7C1314.6 946.5 1315.9 946.4 1317.3 946.2C1318.6 946.1 1319.9 945.9 1321.3 945.8C1322.6 945.7 1323.9 945.6 1325.3 945.5C1326.6 945.4 1327.9 945.3 1329.3 945.2C1330.6 945.2 1331.9 945.1 1333.3 945.1C1334.6 945.1 1335.9 945.1 1337.3 945.1C1338.6 945.1 1339.9 945.2 1341.3 945.2C1342.6 945.3 1343.9 945.4 1345.3 945.5C1346.6 945.6 1347.9 945.7 1349.3 945.9C1350.6 946.0 1351.9 946.2 1353.3 946.4C1354.6 946.6 1355.9 946.8 1357.3 947.0C1358.6 947.3 1359.9 947.5 1361.3 947.8C1362.6 948.0 1363.9 948.3 1365.3 948.6C1366.6 948.9 1367.9 949.2 1369.3 949.5C1370.6 949.8 1371.9 950.1 1373.3 950.5C1374.6 950.8 1375.9 951.2 1377.3 951.5C1378.6 951.8 1379.9 952.2 1381.3 952.5C1382.6 952.9 1384.0 953.2 1385.3 953.6C1386.6 953.9 1388.0 954.3 1389.3 954.6C1390.6 955.0 1392.0 955.3 1393.3 955.6C1394.6 956.0 1396.0 956.3 1397.3 956.6C1398.6 956.9 1400.0 957.2 1401.3 957.5C1402.6 957.8 1404.0 958.1 1405.3 958.4C1406.6 958.7 1408.0 959.0 1409.3 959.2C1410.6 959.5 1412.0 959.7 1413.3 960.0C1414.6 960.2 1416.0 960.4 1417.3 960.6C1418.6 960.8 1420.0 961.0 1421.3 961.2C1422.6 961.4 1424.0 961.6 1425.3 961.8C1426.6 961.9 1428.0 962.1 1429.3 962.2C1430.6 962.4 1432.0 962.5 1433.3 962.6C1434.6 962.8 1436.0 962.9 1437.3 963.0C1438.6 963.1 1440.0 963.2 1441.3 963.3C1442.6 963.4 1444.0 963.5 1445.3 963.5C1446.6 963.6 1448.0 963.7 1449.3 963.8C1450.6 963.8 1452.0 963.9 1453.3 963.9C1454.6 964.0 1456.0 964.0 1457.3 964.1C1458.6 964.1 1460.0 964.2 1461.3 964.2C1462.6 964.2 1464.0 964.3 1465.3 964.3C1466.6 964.3 1468.0 964.3 1469.3 964.4C1470.6 964.4 1472.6 964.4 1473.3 964.4"/>
<path class="curve" stroke="#f40000" d="M364.5 963.9C365.2 963.8 367.2 963.7 368.5 963.6C369.8 963.5 371.2 963.4 372.5 963.3C373.8 963.2 375.2 963.0 376.5 962.9C377.8 962.7 379.2 962.5 380.5 962.3C381.8 962.2 383.2 961.9 384.5 961.7C385.8 961.5 387.2 961.2 388.5 960.9C389.8 960.6 391.2 960.3 392.5 959.9C393.8 959.5 395.2 959.1 396.5 958.7C397.8 958.2 399.2 957.7 400.5 957.2C401.8 956.6 403.1 956.1 404.5 955.4C405.8 954.8 407.1 954.1 408.5 953.3C409.8 952.5 411.1 951.7 412.5 950.8C413.8 949.9 415.1 948.9 416.5 947.9C417.8 946.8 419.1 945.7 420.5 944.5C421.8 943.3 423.1 942.0 424.5 940.6C425.8 939.2 427.1 937.7 428.5 936.1C429.8 934.5 431.1 932.8 432.5 931.0C433.8 929.2 435.1 927.2 436.5 925.2C437.8 923.2 439.1 921.0 440.5 918.7C441.8 916.4 443.1 914.1 444.5 911.5C445.8 909.0 447.1 906.3 448.5 903.5C449.8 900.7 451.1 897.8 452.5 894.7C453.8 891.6 455.1 888.4 456.5 885.1C457.8 881.7 459.1 878.2 460.5 874.5C461.8 870.9 463.1 867.0 464.5 863.1C465.8 859.1 467.1 855.0 468.5 850.7C469.8 846.4 471.1 842.0 472.5 837.4C473.8 832.8 475.1 828.0 476.4 823.1C477.8 818.1 479.1 813.0 480.4 807.8C481.8 802.5 483.1 797.1 484.4 791.4C485.8 785.8 487.1 780.1 488.4 774.1C489.8 768.2 491.1 762.1 492.4 755.8C493.8 749.5 495.1 743.0 496.4 736.4C497.8 729.8 499.1 723.0 500.4 716.1C501.8 709.1 503.1 702.0 504.4 694.7C505.8 687.5 507.1 680.1 508.4 672.5C509.8 664.9 511.1 657.2 512.4 649.3C513.8 641.5 515.1 633.5 516.4 625.3C517.8 617.2 519.1 609.0 520.4 600.6C521.8 592.3 523.1 583.8 524.4 575.3C525.8 566.7 527.1 558.1 528.4 549.4C529.8 540.7 531.1 531.9 532.4 523.1C533.8 514.3 535.1 505.4 536.4 496.5C537.8 487.6 539.1 478.7 540.4 469.8C541.8 461.0 543.1 452.0 544.4 443.2C545.8 434.4 547.1 425.5 548.4 416.8C549.7 408.0 551.1 399.3 552.4 390.7C553.7 382.0 555.1 373.5 556.4 365.0C557.7 356.6 559.1 348.3 560.4 340.1C561.7 331.9 563.1 323.8 564.4 315.8C565.7 307.9 567.1 300.1 568.4 292.5C569.7 284.8 571.1 277.3 572.4 270.0C573.7 262.7 575.1 255.6 576.4 248.6C577.7 241.6 579.1 234.8 580.4 228.3C581.7 221.7 583.1 215.2 584.4 209.0C585.7 202.8 587.1 196.8 588.4 191.0C589.7 185.1 591.1 179.5 592.4 174.1C593.7 168.7 595.1 163.4 596.4 158.5C597.7 153.5 599.1 148.7 600.4 144.1C601.7 139.6 603.1 135.2 604.4 131.1C605.7 127.0 607.1 123.2 608.4 119.6C609.7 116.0 611.1 112.6 612.4 109.5C613.7 106.5 615.1 103.6 616.4 101.1C617.7 98.6 619.1 96.4 620.4 94.5C621.7 92.6 623.0 91.0 624.4 89.7C625.7 88.4 627.0 87.5 628.4 86.9C629.7 86.3 631.0 86.0 632.4 86.1C633.7 86.2 635.0 86.7 636.4 87.5C637.7 88.3 639.0 89.5 640.4 91.0C641.7 92.6 643.0 94.5 644.4 96.8C645.7 99.0 647.0 101.7 648.4 104.6C649.7 107.6 651.0 110.9 652.4 114.5C653.7 118.1 655.0 122.0 656.4 126.2C657.7 130.4 659.0 134.9 660.4 139.6C661.7 144.2 663.0 149.2 664.4 154.3C665.7 159.4 667.0 164.8 668.4 170.2C669.7 175.6 671.0 181.2 672.4 186.8C673.7 192.4 675.0 198.2 676.4 203.9C677.7 209.6 679.0 215.4 680.4 221.1C681.7 226.7 683.0 232.4 684.4 238.0C685.7 243.5 687.0 249.0 688.4 254.2C689.7 259.5 691.0 264.7 692.4 269.6C693.7 274.5 695.0 279.2 696.3 283.6C697.7 288.1 699.0 292.3 700.3 296.1C701.7 300.0 703.0 303.6 704.3 306.8C705.7 310.1 707.0 313.0 708.3 315.5C709.7 318.1 711.0 320.2 712.3 322.0C713.7 323.8 715.0 325.1 716.3 326.1C717.7 327.1 719.0 327.6 720.3 327.7C721.7 327.9 723.0 327.6 724.3 326.9C725.7 326.2 727.0 325.1 728.3 323.5C729.7 322.0 731.0 320.1 732.3 317.8C733.7 315.4 735.0 312.7 736.3 309.7C737.7 306.7 739.0 303.2 740.3 299.6C741.7 295.9 743.0 291.9 744.3 287.7C745.7 283.5 747.0 279.0 748.3 274.4C749.7 269.8 751.0 265.0 752.3 260.1C753.7 255.3 755.0 250.3 756.3 245.5C757.7 240.6 759.0 235.6 760.3 230.9C761.7 226.1 763.0 221.4 764.3 217.0C765.7 212.6 767.0 208.3 768.3 204.4C769.6 200.5 771.0 196.9 772.3 193.7C773.6 190.6 775.0 187.7 776.3 185.5C777.6 183.2 779.0 181.4 780.3 180.2C781.6 179.0 783.0 178.3 784.3 178.3C785.6 178.2 787.0 178.8 788.3 180.0C789.6 181.2 791.0 183.1 792.3 185.6C793.6 188.2 795.0 191.4 796.3 195.2C797.6 199.0 799.0 203.5 800.3 208.6C801.6 213.7 803.0 219.5 804.3 225.8C805.6 232.1 807.0 239.0 808.3 246.4C809.6 253.7 811.0 261.7 812.3 270.0C813.6 278.2 815.0 287.0 816.3 296.1C817.6 305.1 819.0 314.6 820.3 324.2C821.6 333.8 823.0 343.8 824.3 353.8C825.6 363.8 827.0 374.0 828.3 384.2C829.6 394.4 831.0 404.7 832.3 415.0C833.6 425.2 835.0 435.4 836.3 445.5C837.6 455.6 839.0 465.7 840.3 475.5C841.6 485.3 842.9 495.0 844.3 504.4C845.6 513.8 846.9 523.1 848.3 532.1C849.6 541.0 850.9 549.7 852.3 558.2C853.6 566.6 854.9 574.8 856.3 582.7C857.6 590.5 858.9 598.1 860.3 605.4C861.6 612.8 862.9 619.8 864.3 626.6C865.6 633.4 866.9 639.8 868.3 646.1C869.6 652.4 870.9 658.4 872.3 664.2C873.6 670.0 874.9 675.6 876.3 681.0C877.6 686.5 878.9 691.7 880.3 696.7C881.6 701.8 882.9 706.7 884.3 711.5C885.6 716.3 886.9 721.0 888.3 725.6C889.6 730.2 890.9 734.7 892.3 739.1C893.6 743.5 894.9 747.8 896.3 752.2C897.6 756.5 898.9 760.7 900.3 764.9C901.6 769.1 902.9 773.3 904.3 777.5C905.6 781.6 906.9 785.7 908.3 789.8C909.6 793.9 910.9 798.0 912.3 802.1C913.6 806.1 914.9 810.1 916.2 814.1C917.6 818.1 918.9 822.1 920.2 826.0C921.6 830.0 922.9 833.9 924.2 837.7C925.6 841.5 926.9 845.4 928.2 849.1C929.6 852.8 930.9 856.5 932.2 860.1C933.6 863.7 934.9 867.3 936.2 870.7C937.6 874.2 938.9 877.6 940.2 880.8C941.6 884.1 942.9 887.3 944.2 890.4C945.6 893.5 946.9 896.5 948.2 899.4C949.6 902.2 950.9 905.0 952.2 907.7C953.6 910.3 954.9 912.9 956.2 915.3C957.6 917.7 958.9 920.0 960.2 922.2C961.6 924.4 962.9 926.5 964.2 928.5C965.6 930.5 966.9 932.3 968.2 934.1C969.6 935.8 970.9 937.5 972.2 939.0C973.6 940.5 974.9 942.0 976.2 943.3C977.6 944.6 978.9 945.9 980.2 947.0C981.6 948.2 982.9 949.2 984.2 950.2C985.6 951.2 986.9 952.1 988.2 953.0C989.5 953.8 990.9 954.5 992.2 955.2C993.5 955.9 994.9 956.6 996.2 957.1C997.5 957.7 998.9 958.2 1000.2 958.7C1001.5 959.2 1002.9 959.6 1004.2 960.0C1005.5 960.4 1006.9 960.7 1008.2 961.0C1009.5 961.3 1010.9 961.6 1012.2 961.8C1013.5 962.1 1014.9 962.3 1016.2 962.5C1017.5 962.7 1018.9 962.9 1020.2 963.0C1021.5 963.2 1023.5 963.3 1024.2 963.4"/>

<!-- plot frame -->
<g stroke="#000" stroke-width="2" fill="none" stroke-linecap="square">
<line x1="60.1" y1="0.8" x2="1770.5" y2="0.8"/>
<line x1="60.1" y1="1001.5" x2="1770.5" y2="1001.5"/>
<line x1="60.1" y1="0.8" x2="60.1" y2="1001.5"/>
<line x1="1770.5" y1="0.8" x2="1770.5" y2="1001.5"/>
</g>

<!-- y ticks -->
<g stroke="#000" stroke-width="1.6" fill="none">
<line x1="41.5" y1="964.5" x2="60" y2="964.5"/>
<line x1="41.5" y1="796" x2="60" y2="796"/>
<line x1="41.5" y1="627.5" x2="60" y2="627.5"/>
<line x1="41.5" y1="459" x2="60" y2="459"/>
<line x1="41.5" y1="290.5" x2="60" y2="290.5"/>
<line x1="41.5" y1="122" x2="60" y2="122"/>
</g>
<!-- x ticks -->
<g stroke="#000" stroke-width="2" fill="none">
<line x1="123.3" y1="1001.3" x2="123.3" y2="1017"/>
<line x1="440.1" y1="1001.3" x2="440.1" y2="1017"/>
<line x1="756.9" y1="1001.3" x2="756.9" y2="1017"/>
<line x1="1073.7" y1="1001.3" x2="1073.7" y2="1017"/>
<line x1="1390.4" y1="1001.3" x2="1390.4" y2="1017"/>
<line x1="1707.2" y1="1001.3" x2="1707.2" y2="1017"/>
</g>

<!-- y axis labels -->
<g class="ay" text-anchor="middle">
<text transform="translate(18.3,964.2) rotate(-90) scale(1.15,1)">0.0</text>
<text transform="translate(18.3,795.7) rotate(-90) scale(1.15,1)">0.2</text>
<text transform="translate(18.3,627.2) rotate(-90) scale(1.15,1)">0.4</text>
<text transform="translate(18.3,458.7) rotate(-90) scale(1.15,1)">0.6</text>
<text transform="translate(18.3,290.2) rotate(-90) scale(1.15,1)">0.8</text>
<g clip-path="url(#oney)"><text transform="translate(18.3,121.7) rotate(-90) scale(1.15,1)">1.0</text></g>
</g>
<!-- x axis labels -->
<g class="ax" text-anchor="middle">
<g clip-path="url(#one)"><text transform="translate(123.3,1055.1) scale(1.15,1)">1</text></g>
<text transform="translate(440.1,1055.1) scale(1.15,1)">2</text>
<text transform="translate(756.9,1055.1) scale(1.15,1)">3</text>
<text transform="translate(1073.7,1055.1) scale(1.15,1)">4</text>
<text transform="translate(1390.4,1055.1) scale(1.15,1)">5</text>
<text transform="translate(1707.2,1055.1) scale(1.15,1)">6</text>
</g>

<!-- legend -->
<rect x="856.4" y="0.6" width="913.8" height="214.8" fill="#fff" stroke="#000" stroke-width="1.8"/>
<g fill="none" stroke-width="5.5" stroke-linecap="round">
<line x1="888.5" y1="43.6" x2="952.5" y2="43.6" stroke="#bebebe"/>
<line x1="888.5" y1="86.5" x2="952.5" y2="86.5" stroke="#08f008"/>
<line x1="888.5" y1="129.5" x2="952.5" y2="129.5" stroke="#0000f0"/>
<line x1="888.5" y1="172.6" x2="952.5" y2="172.6" stroke="#f40000"/>
</g>
<g class="lg">
<text transform="translate(985,54.3) scale(1.16,1)">All Kegg Genes</text>
<text transform="translate(985,97.2) scale(1.169,1)">Virus Infection Genes</text>
<text transform="translate(985,140.1) scale(1.16,1)">X−signaling genes</text>
<text transform="translate(985,183.0) scale(1.168,1)">Intersect of Virus infection and X−signaling genes</text>
</g>
</svg>
</body>
</html>
